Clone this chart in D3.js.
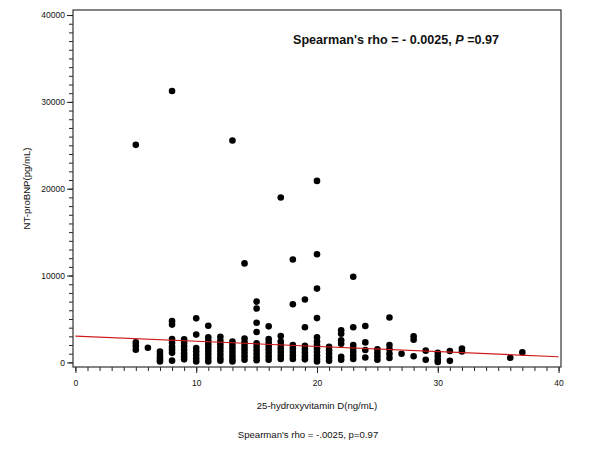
<!DOCTYPE html>
<html>
<head>
<meta charset="utf-8">
<title>NT-proBNP vs 25-hydroxyvitamin D</title>
<script src="https://d3js.org/d3.v7.min.js"></script>
<style>
  body { margin: 0; background: #fff; }
  text { font-family: "Liberation Sans", Arial, sans-serif; fill: #111; }
</style>
</head>
<body>
<svg id="chart" width="600" height="455"></svg>
<script>
// 25-hydroxyvitamin D (ng/mL), one entry per patient
var vitD = [
  5, 5, 5, 5,
  6,
  7, 7, 7, 7, 7,
  8, 8, 8, 8, 8, 8, 8, 8, 8,
  9, 9, 9, 9, 9, 9, 9,
  10, 10, 10, 10, 10, 10, 10,
  11, 11, 11, 11, 11, 11, 11, 11, 11,
  12, 12, 12, 12, 12, 12, 12, 12,
  13, 13, 13, 13, 13, 13, 13, 13,
  14, 14, 14, 14, 14, 14, 14, 14,
  15, 15, 15, 15, 15, 15, 15, 15, 15, 15,
  16, 16, 16, 16, 16, 16, 16, 16,
  17, 17, 17, 17, 17, 17, 17, 17,
  18, 18, 18, 18, 18, 18, 18,
  19, 19, 19, 19, 19, 19, 19,
  20, 20, 20, 20, 20, 20, 20, 20, 20, 20, 20, 20,
  21, 21, 21, 21, 21,
  22, 22, 22, 22, 22, 22,
  23, 23, 23, 23, 23, 23, 23,
  24, 24, 24, 24,
  25, 25, 25, 25,
  26, 26, 26, 26, 26,
  27,
  28, 28, 28,
  29, 29,
  30, 30, 30, 30,
  31, 31,
  32, 32,
  36,
  37
];

// NT-proBNP (pg/mL), same order as vitD
var ntProBNP = [
  25050, 2300, 1900, 1450,
  1680,
  1250, 900, 600, 300, 100,
  31250, 4750, 4350, 2700, 2250, 1800, 1450, 1100, 200,
  2650, 2250, 1850, 1450, 1050, 700, 350,
  5070, 3200, 1650, 1250, 850, 450, 100,
  4220, 2900, 2500, 2100, 1700, 1300, 900, 500, 100,
  2950, 2500, 2100, 1700, 1300, 900, 500, 200,
  25550, 2400, 2000, 1600, 1200, 800, 400, 100,
  11400, 2750, 2300, 1900, 1500, 1100, 700, 300,
  7000, 6200, 4570, 3500, 2200, 1800, 1400, 1000, 600, 250,
  4150, 2700, 2300, 1900, 1500, 1100, 700, 300,
  18980, 3030, 2400, 2000, 1600, 1200, 800, 400,
  11850, 6700, 2000, 1600, 1200, 800, 400,
  7250, 4050, 1900, 1500, 1100, 700, 350,
  20900, 12450, 8500, 5100, 2900, 2400, 2000, 1600, 1200, 800, 400, 100,
  1800, 1400, 1000, 600, 200,
  3700, 3300, 2550, 2150, 650, 300,
  9870, 4050, 2000, 1600, 1200, 800, 400,
  4190, 2300, 1420, 570,
  1500, 1100, 700, 300,
  5170, 2000, 1500, 1000, 500,
  1000,
  3000, 2600, 700,
  1350, 300,
  1100, 700, 300, 50,
  1320, 180,
  1600, 1250,
  530,
  1150
];

// fitted line end points [vitD, NT-proBNP]
var fitLine = [[0, 3030], [40, 650]];

var xTicks = [0, 10, 20, 30, 40];
var yTicks = [0, 10000, 20000, 30000, 40000];

var data = vitD.map(function (d, i) {
    return {x: d, y: ntProBNP[i]};
});

var svg = d3.select("#chart"),
    margin = {top: 10, right: 39, bottom: 88, left: 73},
    width = +svg.attr("width"),
    height = +svg.attr("height");

var x = d3.scaleLinear()
    .domain([-0.2, 40.2])
    .range([margin.left, width - margin.right]);

var y = d3.scaleLinear()
    .domain([-530, 40580])
    .range([height - margin.bottom, margin.top]);

// minor ticks
var xMinor = svg.append("g")
    .attr("transform", `translate(0,${height - margin.bottom})`)
    .call(d3.axisBottom(x).tickValues(d3.range(0, 41, 1)).tickFormat(() => "").tickSize(4).tickSizeOuter(0));

var yMinor = svg.append("g")
    .attr("transform", `translate(${margin.left},0)`)
    .call(d3.axisLeft(y).tickValues(d3.range(0, 40001, 1000)).tickFormat(() => "").tickSize(4).tickSizeOuter(0));

var xAxis = svg.append("g")
    .attr("transform", `translate(0,${height - margin.bottom})`)
    .call(d3.axisBottom(x).tickValues(xTicks).tickFormat(d3.format("d")).tickSize(6).tickPadding(7).tickSizeOuter(0));

var yAxis = svg.append("g")
    .attr("transform", `translate(${margin.left},0)`)
    .call(d3.axisLeft(y).tickValues(yTicks).tickFormat(d3.format("d")).tickSize(6).tickPadding(2).tickSizeOuter(0));

[xMinor, yMinor, xAxis, yAxis].forEach(g => g.select(".domain").remove());

svg.selectAll(".tick line")
    .attr("stroke", "#222")
    .attr("stroke-width", 1);
svg.selectAll(".tick text")
    .style("font-family", "'Liberation Sans', Arial, sans-serif")
    .style("font-size", "8.5px")
    .attr("fill", "#111");

// plot frame
svg.append("rect")
    .attr("x", margin.left)
    .attr("y", margin.top)
    .attr("width", width - margin.left - margin.right)
    .attr("height", height - margin.top - margin.bottom)
    .attr("fill", "none")
    .attr("stroke", "#333")
    .attr("stroke-width", 1.2);

svg.append("g")
    .selectAll("circle")
    .data(data)
    .join("circle")
    .attr("cx", d => x(d.x))
    .attr("cy", d => y(d.y))
    .attr("r", 3.3)
    .attr("fill", "#000");

var line = d3.line()
    .x(d => x(d[0]))
    .y(d => y(d[1]));

svg.append("path")
    .datum(fitLine)
    .attr("fill", "none")
    .attr("stroke", "#d01818")
    .attr("stroke-width", 1.1)
    .attr("d", line);

// annotation inside the plot
var note = svg.append("text")
    .attr("x", 293)
    .attr("y", 44)
    .style("font-size", "12.6px")
    .style("font-weight", "bold");
note.append("tspan").text("Spearman's rho = - 0.0025, ");
note.append("tspan").style("font-style", "italic").text("P");
note.append("tspan").text(" =0.97");

svg.append("text")
    .attr("transform", `translate(30,${(margin.top + height - margin.bottom) / 2}) rotate(-90)`)
    .attr("text-anchor", "middle")
    .style("font-size", "9.6px")
    .text("NT-proBNP(pg/mL)");

svg.append("text")
    .attr("x", 317)
    .attr("y", 409)
    .attr("text-anchor", "middle")
    .style("font-size", "9.6px")
    .text("25-hydroxyvitamin D(ng/mL)");

svg.append("text")
    .attr("x", 308)
    .attr("y", 438)
    .attr("text-anchor", "middle")
    .style("font-size", "9.6px")
    .text("Spearman's rho = -.0025, p=0.97");
</script>
</body>
</html>
